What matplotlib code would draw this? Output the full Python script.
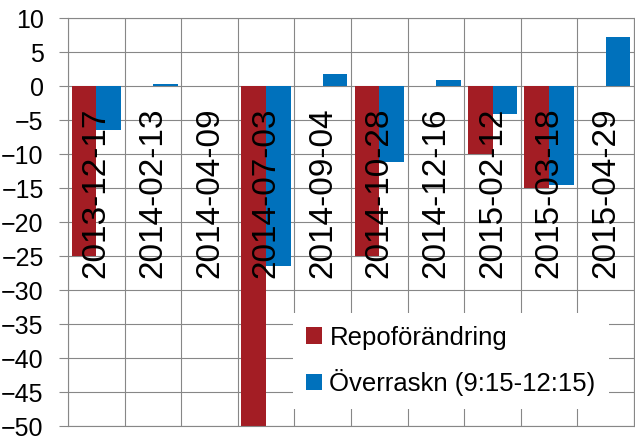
import matplotlib
matplotlib.use("Agg")
import matplotlib.pyplot as plt
from matplotlib.transforms import offset_copy
import numpy as np

plt.rcParams['font.family'] = ['Liberation Sans', 'DejaVu Sans']

# data
dates = ['2013-12-17', '2014-02-13', '2014-04-09', '2014-07-03', '2014-09-04',
         '2014-10-28', '2014-12-16', '2015-02-12', '2015-03-18', '2015-04-29']
repo = [-25, 0, 0, -50, 0, -25, 0, -10, -15, 0]
overraskn = [-6.4, 0.3, 0, -26.4, 1.8, -11.1, 0.9, -4.0, -14.5, 7.2]

red = '#A31D24'
blue = '#0071BC'
grid_col = '#878787'

fig = plt.figure(figsize=(6.35, 4.37), dpi=100)
ax = fig.add_axes([68 / 635, 1 - 426.3 / 437, 566 / 635, (426.3 - 18.3) / 437])

x = np.arange(len(dates))
w = 0.436
ax.bar(x - w / 2, repo, w, color=red, label='Repoförändring', zorder=2)
ax.bar(x + w / 2, overraskn, w, color=blue, label='Överraskn (9:15-12:15)', zorder=2)

ax.set_xlim(-0.5, len(dates) - 0.5)
ax.set_ylim(-50, 10)
ax.set_yticks(range(-50, 11, 5))
ax.set_xticks([])
ax.set_xticks(np.arange(-0.5, len(dates), 1), minor=True)
ax.tick_params(axis='x', which='both', length=0)
ax.tick_params(axis='y', direction='out', length=6.5, width=0.8, color=grid_col,
               labelsize=18, pad=11)
ax.grid(True, which='minor', axis='x', color=grid_col, linewidth=0.8)
ax.grid(True, which='major', axis='y', color=grid_col, linewidth=0.8)
ax.set_axisbelow(True)
for s in ax.spines.values():
    s.set_color(grid_col)
    s.set_linewidth(0.8)

# category labels hang below the zero line
trans = offset_copy(ax.transData, fig=fig, x=0, y=-21, units='dots')
for i, d in enumerate(dates):
    ax.text(i, 0, d, rotation=90, ha='center', va='top', fontsize=24,
            transform=trans, zorder=3)

leg = ax.legend(loc='upper left', bbox_to_anchor=(293 / 635, 1 - 313 / 437),
                bbox_transform=fig.transFigure, borderaxespad=0, fontsize=18.5,
                frameon=True, fancybox=False, framealpha=1, edgecolor='none',
                facecolor='white', handlelength=0.62, handleheight=0.62,
                handletextpad=0.3, labelspacing=0.75, borderpad=0.5)
leg.set_zorder(5)

fig.savefig('out.png', dpi=100)
